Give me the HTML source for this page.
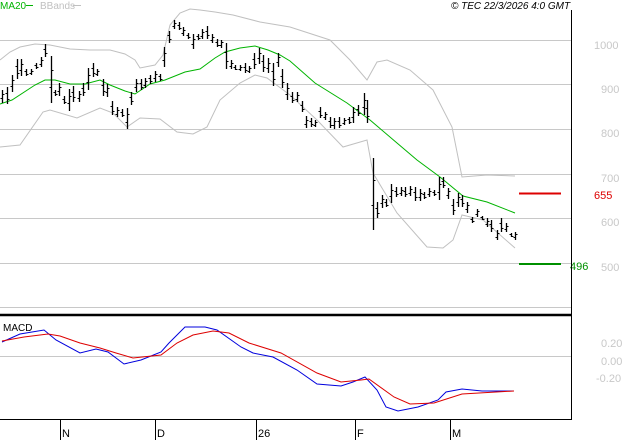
<!DOCTYPE html>
<html><head><meta charset="utf-8"><style>
html,body{margin:0;padding:0;background:#fff;}
svg{display:block;font-family:"Liberation Sans",sans-serif;}
</style></head><body>
<svg id="s" width="627" height="440" viewBox="0 0 627 440" xmlns="http://www.w3.org/2000/svg">
<g stroke="#c8c8c8" stroke-width="1">
<line x1="0" y1="40.5" x2="571" y2="40.5"/>
<line x1="0" y1="84.5" x2="571" y2="84.5"/>
<line x1="0" y1="129.5" x2="571" y2="129.5"/>
<line x1="0" y1="174.5" x2="571" y2="174.5"/>
<line x1="0" y1="218.5" x2="571" y2="218.5"/>
<line x1="0" y1="263.5" x2="571" y2="263.5"/>
<line x1="0" y1="307.5" x2="571" y2="307.5"/>
<line x1="0" y1="356.5" x2="571" y2="356.5"/>
</g>
<g fill="none" stroke="#c0c0c0" stroke-width="1">
<polyline points="0,60 10,52 20,47 35,44 50,45 70,49 90,50 110,50 125,54 135,60 140,68 155,65 163,55 170,25 180,13 190,9 200,10 215,12 233,15 260,22 290,27 330,40 350,60 367,80 377,62 387,60 410,70 433,90 452,127 462,177 487,175 515,176"/>
<polyline points="0,147 20,145 43,112 50,110 77,118 100,108 113,113 127,127 140,118 160,119 177,132 193,134 207,127 220,100 240,83 255,75 267,78 290,95 317,120 343,147 367,140 373,173 397,213 427,247 443,248 453,240 462,215 483,220 515,248"/>
</g>
<polyline fill="none" stroke="#00b400" stroke-width="1" points="0,104 12,100 35,85 45,80 55,80 70,84 85,84 100,80 110,85 125,91 135,94 150,84 165,80 185,72 200,69 215,58 225,52 240,48 255,46 268,50 280,55 290,61 315,83 347,103 370,120 397,143 417,160 440,177 463,196 487,202 515,213"/>
<g id="bars" stroke="#000" stroke-width="1"></g>
<line x1="519" y1="193.5" x2="561" y2="193.5" stroke="#dd0000" stroke-width="2"/>
<line x1="519" y1="264" x2="561" y2="264" stroke="#009000" stroke-width="2"/>
<text x="594" y="199" font-size="11" fill="#dd0000">655</text>
<text x="570" y="270" font-size="11" fill="#009000">496</text>
<g font-size="11" fill="#c8c8c8">
<text x="594" y="49">1000</text>
<text x="601" y="93">900</text>
<text x="601" y="137">800</text>
<text x="601" y="182">700</text>
<text x="601" y="226">600</text>
<text x="601" y="271">500</text>
<text x="601" y="347">0.20</text>
<text x="601" y="365">0.00</text>
<text x="596" y="382">-0.20</text>
</g>
<polyline fill="none" stroke="#0000dd" stroke-width="1" points="2,342 20,334 44,330 56,340 80,353 96,349 108,352 124,364 141,360 161,352 169,343 185,327 205,327 217,330 241,347 253,353 273,357 297,370 317,384 341,386 353,382 365,377 377,390 386,407 398,411 418,407 438,400 446,392 462,389 482,391 514,391"/>
<polyline fill="none" stroke="#dd0000" stroke-width="1" points="2,341 24,337 48,334 60,336 80,343 100,348 116,353 133,358 161,355 177,343 193,335 213,331 229,333 249,343 281,353 317,373 341,382 361,380 369,379 394,397 410,404 434,403 462,394 514,391"/>
<text x="3" y="331" font-size="10" fill="#000">MACD</text>
<g stroke="#000" stroke-width="1">
<line x1="571.5" y1="10" x2="571.5" y2="420"/>
<line x1="0" y1="315" x2="572" y2="315" stroke-width="2.5"/>
<line x1="0" y1="419.5" x2="572" y2="419.5"/>
<line x1="60.5" y1="419" x2="60.5" y2="440"/>
<line x1="155.5" y1="419" x2="155.5" y2="440"/>
<line x1="256.5" y1="419" x2="256.5" y2="440"/>
<line x1="355.5" y1="419" x2="355.5" y2="440"/>
<line x1="450.5" y1="419" x2="450.5" y2="440"/>
</g>
<g font-size="11" fill="#000">
<text x="62" y="437">N</text>
<text x="157" y="437">D</text>
<text x="258" y="437">26</text>
<text x="357" y="437">F</text>
<text x="452" y="437">M</text>
</g>
<text x="0" y="9" font-size="10" fill="#00b400">MA20</text>
<line x1="26" y1="5.5" x2="33" y2="5.5" stroke="#00b400"/>
<text x="40" y="9" font-size="10" fill="#c0c0c0">BBands</text>
<line x1="73" y1="5.5" x2="81" y2="5.5" stroke="#c0c0c0"/>
<text x="451" y="9" font-size="10" font-style="italic" fill="#000">© TEC 22/3/2026 4:0 GMT</text>
</svg>
<script>
var b=[[2,90,103],[7,87,104],[12,75,92],[17,59,79],[21,59,76],[26,69,76],[31,69,75],[36,63,69],[41,57,67],[45,44,57],[51,56,103],[55,90,96],[59,83,96],[64,96,104],[69,89,111],[73,86,102],[79,91,102],[83,83,96],[88,68,90],[93,63,77],[97,69,76],[103,79,96],[107,84,97],[112,101,115],[117,107,117],[122,109,117],[127,108,129],[131,92,105],[136,79,92],[141,79,90],[145,78,88],[150,75,84],[155,71,82],[160,74,81],[164,47,67],[169,31,43],[174,20,29],[179,22,30],[183,27,36],[188,33,39],[193,34,49],[198,34,40],[202,29,39],[207,26,39],[212,34,43],[217,39,47],[221,40,48],[226,43,69],[231,60,69],[235,65,70],[240,65,71],[245,63,73],[249,66,73],[254,53,69],[259,48,64],[263,55,72],[268,58,73],[273,63,86],[278,53,67],[282,69,88],[287,83,100],[292,92,103],[297,92,102],[302,101,112],[306,116,128],[311,118,127],[315,120,127],[320,107,118],[325,112,120],[330,117,128],[334,118,129],[339,117,128],[344,118,125],[349,117,124],[353,107,123],[358,105,116],[364,93,115],[367,100,123],[373,158,230],[377,202,218],[382,195,208],[386,199,207],[391,184,203],[396,187,197],[401,187,196],[405,187,197],[410,186,196],[415,187,201],[420,189,201],[424,192,199],[429,188,197],[434,190,196],[439,177,200],[443,177,188],[448,188,199],[453,199,215],[458,193,207],[462,195,207],[467,202,213],[472,217,223],[477,209,217],[482,216,220],[487,218,227],[491,220,232],[497,230,240],[501,218,232],[506,223,232],[511,233,237],[515,232,240]];
var g=document.getElementById('bars'),h='';
b.forEach(function(r,i){var x=r[0]+0.5,t=r[1],bt=r[2],d=bt-t;var o=Math.round(t+d*(i%2?0.35:0.65))+0.5,c=Math.round(t+d*(i%2?0.7:0.3))+0.5;
h+='<line x1="'+x+'" y1="'+t+'" x2="'+x+'" y2="'+bt+'" stroke-width="1.3"/><line x1="'+(x-2)+'" y1="'+o+'" x2="'+x+'" y2="'+o+'"/><line x1="'+x+'" y1="'+c+'" x2="'+(x+2)+'" y2="'+c+'"/>';});
g.innerHTML=h;
</script>
</body></html>
